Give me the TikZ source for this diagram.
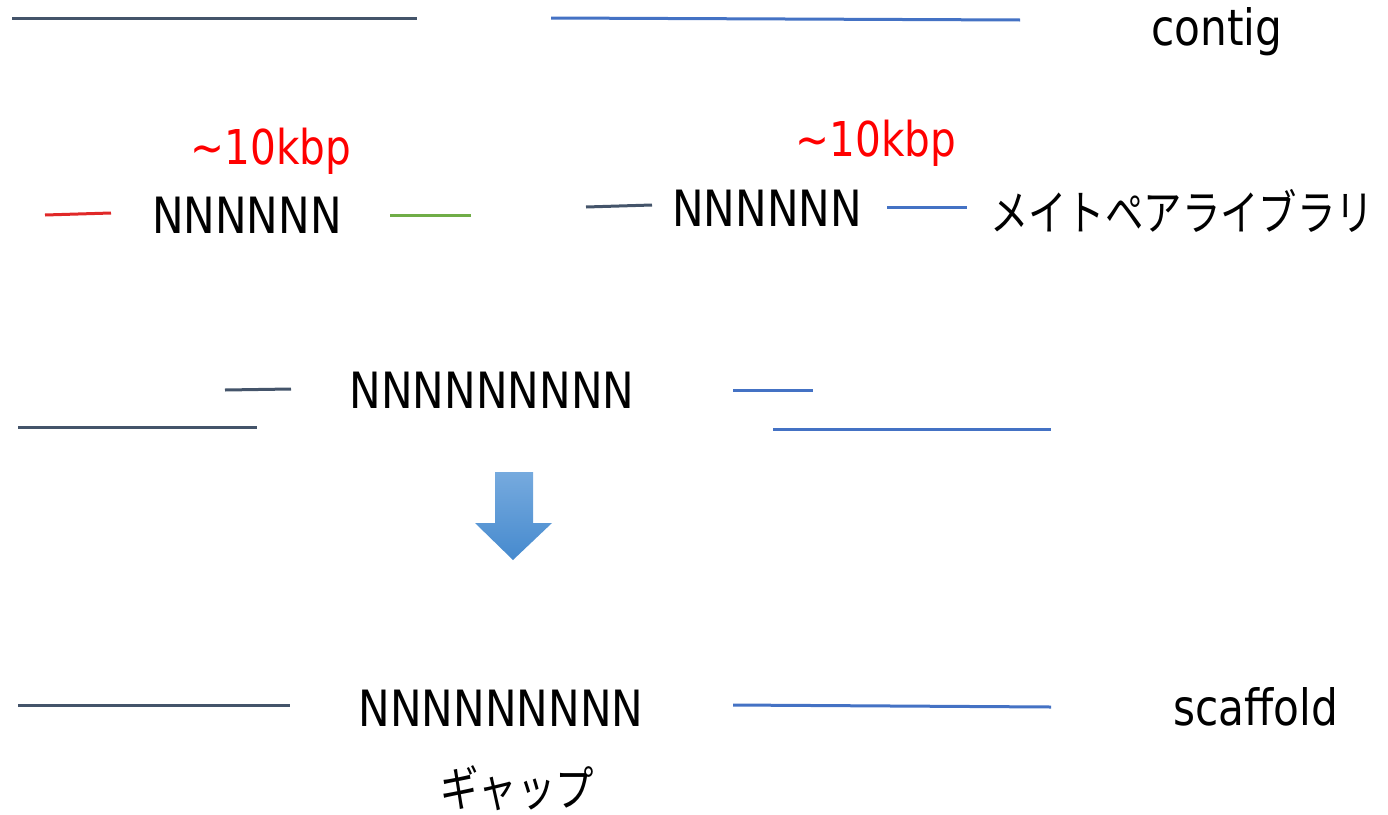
\documentclass[tikz,border=0pt]{standalone}
\usepackage{fontspec}
\setmainfont{DejaVu Sans}[FakeStretch=0.845]
\newfontfamily\jpfont{Noto Sans CJK JP}[FakeStretch=0.8]
\usetikzlibrary{positioning}

\definecolor{darkread}{RGB}{68,84,106}
\definecolor{blueread}{RGB}{68,114,196}
\definecolor{redread}{RGB}{224,40,40}
\definecolor{greenread}{RGB}{112,173,71}

\tikzset{
  read/.style={line width=3pt},
  label/.style={font=\fontsize{50}{60}\selectfont, inner sep=0pt, anchor=base},
  jplabel/.style={font=\jpfont\fontsize{48}{58}\selectfont, inner sep=0pt},
  size/.style={font=\fontsize{48}{58}\selectfont, text=red, inner sep=0pt, anchor=base}
}

\begin{document}
\begin{tikzpicture}[x=1pt, y=-1pt]

    \useasboundingbox (0,0) rectangle (1388,814);

    % contigs
    \draw[read, darkread] (12,18) -- (417,18);
    \draw[read, blueread] (551,18) -- (1020,20);
    \node[label] (contig) at (1217,45) {contig};

    % ================================
    % mate pairs

    \node[size] (insl) at (271,164) {\textasciitilde10kbp};
    \node[label] (gapl) at (247,233) {NNNNNN};
    \draw[read, redread] (45,215) -- (111,213);
    \draw[read, greenread] (390,215) -- (471,215);

    \node[size] (insr) at (876,156) {\textasciitilde10kbp};
    \node[label] (gapr) at (767,226) {NNNNNN};
    \draw[read, darkread] (586,207) -- (652,205);
    \draw[read, blueread] (887,207) -- (967,207);
    \node[jplabel] (matepair) at (1182,211) {メイトペアライブラリ};

    % ================================
    % ordering

    \node[label] (gapm) at (492,408) {NNNNNNNNN};
    \draw[read, darkread] (225,390) -- (291,389);
    \draw[read, darkread] (18,427) -- (257,427);
    \draw[read, blueread] (733,390) -- (813,390);
    \draw[read, blueread] (773,429) -- (1051,429);

    % arrow
    \shade[top color={rgb,255:red,118;green,170;blue,222},
           bottom color={rgb,255:red,70;green,138;blue,206}]
      (495,472) -- (533,472) -- (533,523) -- (552,523) -- (513,560)
      -- (475,523) -- (495,523) -- cycle;

    % ================================
    % scaffold

    \node[label] (gapb) at (501,726) {NNNNNNNNN};
    \draw[read, darkread] (18,705) -- (290,705);
    \draw[read, blueread] (733,705) -- (1051,707);
    \node[label] (scaffold) at (1256,725) {scaffold};
    \node[jplabel] (gap) at (517,788) {ギャップ};

\end{tikzpicture}
\end{document}
